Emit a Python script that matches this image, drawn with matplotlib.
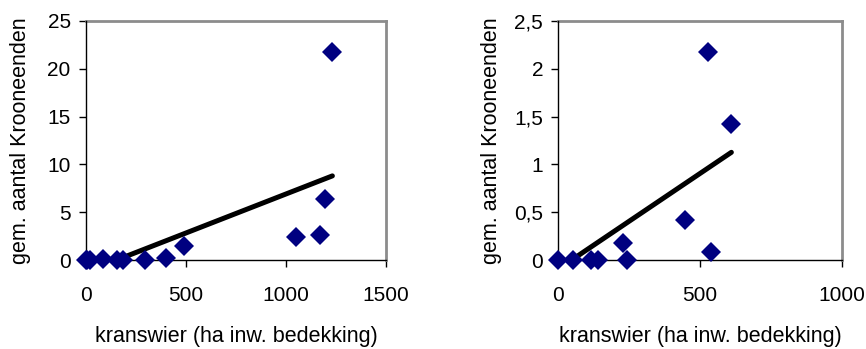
import matplotlib.pyplot as plt
import numpy as np

plt.rcParams['font.family'] = ['Liberation Sans', 'DejaVu Sans']

# linker grafiek: alle gebieden
kranswier_a = [0, 3, 20, 87, 153, 187, 295, 400, 490, 1050, 1172, 1195, 1232]
kroon_a = [0, 0, 0, 0.1, 0, 0, 0, 0.24, 1.46, 2.44, 2.65, 6.4, 21.7]

# rechter grafiek
kranswier_b = [0, 53, 114, 139, 229, 243, 446, 537, 527, 610]
kroon_b = [0, 0, 0, 0, 0.175, 0, 0.42, 0.084, 2.17, 1.42]
trend_b = [0.0020, -0.094]  # helling, intercept

xticks_a = [0, 500, 1000, 1500]
yticks_a = [0, 5, 10, 15, 20, 25]
xticks_b = [0, 500, 1000]
yticks_b = [0, 0.5, 1, 1.5, 2, 2.5]
ylabels_b = ['0', '0,5', '1', '1,5', '2', '2,5']

xlabel = 'kranswier (ha inw. bedekking)'
ylabel = 'gem. aantal Krooneenden'

navy = '#000080'


def opmaak(ax, xticks, yticks, ylabels=None, ypad=6):
    ax.set_xlim(xticks[0], xticks[-1])
    ax.set_ylim(yticks[0], yticks[-1])
    ax.set_xticks(xticks)
    ax.set_yticks(yticks)
    if ylabels:
        ax.set_yticklabels(ylabels)
    for s in ['top', 'right']:
        ax.spines[s].set_color('#8c8c8c')
        ax.spines[s].set_linewidth(2)
    for s in ['left', 'bottom']:
        ax.spines[s].set_color('black')
        ax.spines[s].set_linewidth(1)
        ax.spines[s].set_zorder(5)
    ax.tick_params(axis='both', direction='out', length=5, width=1,
                   labelsize=15, color='black')
    ax.tick_params(axis='x', pad=14)
    ax.tick_params(axis='y', pad=6)
    ax.set_xlabel(xlabel, fontsize=15.5, labelpad=15)
    ax.set_ylabel(ylabel, fontsize=15.5, labelpad=ypad)


fig = plt.figure(figsize=(8.66, 3.49), dpi=100)
ax1 = fig.add_axes([0.0993, 0.255, 0.3464, 0.685])
ax2 = fig.add_axes([0.6447, 0.255, 0.3276, 0.685])

# lineaire trend links via kleinste kwadraten
coef_a = np.polyfit(kranswier_a, kroon_a, 1)
xa = np.array([min(kranswier_a), max(kranswier_a)])
ax1.plot(xa, np.polyval(coef_a, xa), color='black', lw=3.6, solid_capstyle='round', zorder=2)
ax1.plot(kranswier_a, kroon_a, 'D', color=navy, ms=10, mew=0, clip_on=False, zorder=6)
opmaak(ax1, xticks_a, yticks_a, ypad=12)

xb = np.array([min(kranswier_b), max(kranswier_b)])
ax2.plot(xb, np.polyval(trend_b, xb), color='black', lw=3.6, solid_capstyle='round', zorder=2)
ax2.plot(kranswier_b, kroon_b, 'D', color=navy, ms=10, mew=0, clip_on=False, zorder=6)
opmaak(ax2, xticks_b, yticks_b, ylabels_b, ypad=9)

fig.savefig('out.png', dpi=100)
